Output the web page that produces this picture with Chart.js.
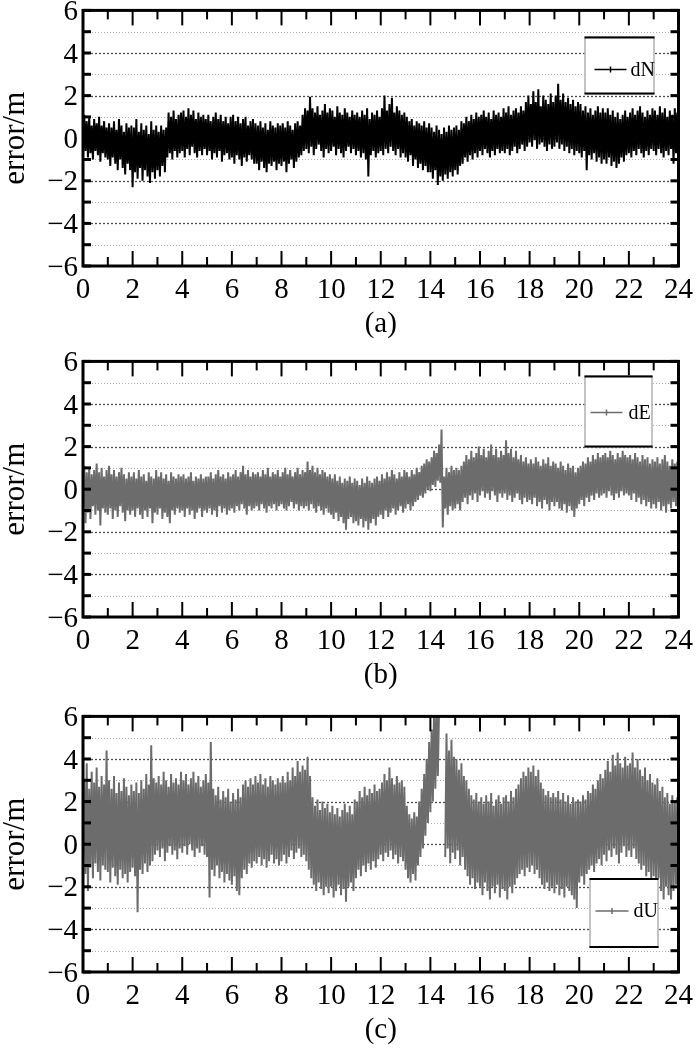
<!DOCTYPE html>
<html lang="en">
<head>
    <meta charset="UTF-8">
    <title>Position error dN / dE / dU</title>
    <script src="https://cdn.jsdelivr.net/npm/chart.js@4.4.1/dist/chart.umd.min.js"></script>
    <style>
        html, body { margin: 0; padding: 0; background: #fff; overflow: hidden; }
        body { width: 700px; height: 1052px; position: relative; }
        .panel { position: absolute; left: 0; width: 700px; height: 360px; }
    </style>
</head>
<body>
    <div class="panel" style="top:-12px"><canvas id="chartN" width="700" height="360"></canvas></div>
    <div class="panel" style="top:339px"><canvas id="chartE" width="700" height="360"></canvas></div>
    <div class="panel" style="top:694px"><canvas id="chartU" width="700" height="360"></canvas></div>

    <script>
        // one low/high pair of the error every 0.1 h (10 per row = 1 hour)
        const STEP_H = 0.1;
        const X_TICKS = [0, 2, 4, 6, 8, 10, 12, 14, 16, 18, 20, 22, 24];
        const Y_TICKS = [-6, -4, -2, 0, 2, 4, 6];

        const dNHi = [
            1.1, 0.8, 1.0, 0.6, 0.9, 0.7, 1.0, 0.6, 0.8, 0.5,
            0.7, 0.5, 0.8, 0.4, 0.9, 0.6, 0.3, 0.7, 0.5, 0.6,
            0.5, 0.9, 0.3, 0.7, 0.4, 0.6, 0.2, 0.8, 0.4, 0.6,
            0.3, 0.6, 0.4, 0.5, 1.2, 1.0, 1.3, 0.9, 1.1, 1.2,
            1.3, 1.0, 1.4, 1.1, 1.3, 0.9, 1.2, 1.0, 1.1, 0.9,
            1.1, 0.8, 1.0, 1.2, 0.9, 1.1, 0.8, 1.0, 0.7, 1.0,
            1.1, 0.8, 1.0, 0.7, 0.9, 1.0, 0.6, 0.8, 0.9, 0.7,
            0.6, 0.8, 0.5, 0.7, 0.4, 0.8, 0.6, 0.5, 0.7, 0.6,
            0.7, 0.5, 0.8, 0.6, 0.4, 0.7, 0.8, 0.6, 1.1, 1.4,
            1.3, 1.95, 1.4, 1.2, 1.5, 1.1, 1.3, 1.6, 1.2, 1.4,
            1.3, 1.0, 1.5, 1.2, 1.1, 1.4, 1.2, 1.0, 1.3, 1.1,
            1.2, 1.0, 1.3, 1.1, 1.4, 0.9, 1.2, 1.1, 1.3, 1.0,
            1.4, 2.0, 1.3, 1.6, 1.9, 1.2, 1.5, 1.3, 1.1, 1.2,
            1.0, 0.8, 0.9, 0.6, 0.8, 0.7, 0.6, 0.8, 0.5, 0.7,
            0.5, 0.3, 0.6, 0.4, 0.2, 0.5, 0.3, 0.6, 0.4, 0.5,
            0.6, 0.4, 0.8, 0.7, 1.0, 0.8, 1.1, 0.9, 1.2, 1.0,
            1.1, 1.3, 1.0, 1.2, 0.9, 1.3, 1.1, 1.2, 1.0, 1.4,
            1.2, 1.5, 1.1, 1.3, 1.4, 1.2, 1.5, 1.3, 1.7, 2.0,
            1.6, 2.2, 1.7, 2.3, 1.5, 2.0, 1.8, 1.6, 2.1, 1.7,
            2.0, 2.55, 1.8, 2.1, 1.7, 1.9, 1.6, 1.8, 1.5, 1.7,
            1.6, 1.3, 1.5, 1.2, 1.4, 1.1, 1.3, 1.5, 1.2, 1.4,
            1.2, 1.4, 1.1, 1.3, 1.0, 1.2, 0.9, 1.1, 1.3, 1.0,
            1.2, 1.4, 1.1, 1.3, 1.5, 1.2, 1.0, 1.3, 1.1, 1.4,
            1.3, 1.1, 1.5, 1.2, 1.4, 1.0, 1.3, 1.1, 1.4, 1.2
        ];
        const dNLo = [
            -0.8, -0.6, -0.9, -0.7, -1.0, -0.6, -0.8, -1.1, -0.7, -0.9,
            -1.0, -1.3, -0.9, -1.2, -1.5, -1.0, -1.4, -1.7, -1.2, -1.5,
            -2.3, -1.6, -1.9, -1.4, -2.0, -1.5, -1.8, -2.1, -1.6, -1.9,
            -1.5, -1.8, -1.3, -1.6, -0.9, -0.7, -1.0, -0.6, -0.9, -0.7,
            -0.6, -0.9, -0.5, -0.8, -0.4, -0.7, -0.9, -0.6, -0.8, -0.5,
            -0.8, -0.6, -1.0, -0.7, -0.9, -0.6, -1.1, -0.8, -0.7, -1.0,
            -0.9, -1.2, -0.8, -1.0, -1.3, -0.9, -1.1, -0.8, -1.0, -1.2,
            -1.2, -1.5, -1.1, -1.4, -1.6, -1.2, -1.3, -1.1, -1.5, -1.2,
            -1.3, -1.1, -1.6, -1.2, -1.0, -1.4, -1.1, -0.9, -0.8, -0.6,
            -0.5, -0.7, -0.4, -0.8, -0.5, -0.3, -0.6, -0.9, -0.5, -0.7,
            -0.6, -0.4, -0.8, -0.5, -0.7, -0.9, -0.6, -0.4, -0.7, -0.5,
            -0.8, -0.6, -0.9, -0.7, -1.0, -1.8, -0.8, -0.6, -0.9, -0.7,
            -0.6, -0.8, -0.5, -0.7, -0.4, -0.6, -0.8, -0.5, -0.9, -0.7,
            -0.9, -1.1, -0.8, -1.3, -1.0, -1.4, -1.2, -1.5, -1.3, -1.6,
            -1.6, -1.9, -1.5, -2.2, -1.8, -2.0, -1.7, -1.9, -1.6, -1.8,
            -1.5, -1.7, -1.3, -1.2, -0.9, -1.1, -0.8, -1.0, -0.7, -0.9,
            -0.6, -0.8, -0.5, -0.7, -0.9, -0.6, -0.8, -0.5, -0.7, -0.6,
            -0.7, -0.5, -0.8, -0.6, -0.4, -0.7, -0.5, -0.3, -0.6, -0.4,
            -0.2, -0.4, -0.1, -0.5, -0.3, -0.2, -0.4, -0.6, -0.3, -0.5,
            -0.4, -0.2, -0.5, -0.3, -0.6, -0.4, -0.7, -0.5, -0.8, -0.6,
            -0.7, -0.9, -0.6, -1.5, -0.8, -1.0, -0.7, -1.1, -0.9, -1.2,
            -1.0, -1.2, -0.9, -1.3, -1.1, -1.4, -1.2, -0.9, -1.1, -0.8,
            -0.7, -0.9, -0.6, -0.8, -0.5, -0.7, -0.9, -0.6, -0.8, -0.5,
            -0.6, -0.8, -0.5, -0.7, -0.9, -0.6, -0.8, -0.5, -1.2, -0.7
        ];

        const dEHi = [
            1.1, 0.8, 1.0, 0.7, 0.9, 1.2, 0.8, 1.0, 0.6, 0.9,
            1.1, 0.7, 0.9, 0.6, 0.8, 1.0, 0.7, 0.5, 0.8, 0.6,
            0.8, 0.5, 0.9, 0.6, 0.7, 0.4, 0.8, 0.6, 0.5, 0.9,
            0.6, 0.8, 0.5, 0.7, 0.4, 0.8, 0.6, 0.5, 0.7, 0.6,
            0.7, 0.5, 0.6, 0.8, 0.4, 0.6, 0.5, 0.7, 0.5, 0.6,
            0.6, 0.8, 0.5, 0.7, 0.9, 0.6, 0.7, 0.5, 0.8, 0.6,
            0.7, 0.9, 0.6, 0.8, 1.1, 0.7, 0.9, 0.6, 0.8, 0.7,
            0.8, 0.6, 0.9, 0.7, 1.0, 0.6, 0.8, 0.7, 0.9, 0.6,
            0.8, 1.0, 0.7, 0.9, 0.6, 0.8, 1.0, 0.7, 0.9, 0.8,
            1.3, 0.9, 1.1, 0.8, 1.0, 0.7, 0.9, 0.8, 0.6, 0.7,
            0.5, 0.7, 0.4, 0.6, 0.3, 0.5, 0.4, 0.6, 0.3, 0.5,
            0.4, 0.2, 0.5, 0.3, 0.6, 0.4, 0.3, 0.5, 0.6, 0.4,
            0.7, 0.5, 0.8, 0.6, 0.9, 0.7, 0.5, 0.8, 0.6, 0.9,
            0.8, 0.6, 0.9, 0.7, 1.0, 0.8, 1.1, 1.2, 1.4, 1.3,
            1.5, 1.8, 1.7, 2.1, 2.8, 0.6, 1.0, 0.8, 1.1, 0.9,
            1.0, 0.9, 1.1, 1.3, 1.6, 1.4, 1.8, 1.5, 1.7, 2.0,
            1.6, 1.9, 1.5, 1.8, 2.1, 1.6, 1.9, 1.5, 1.8, 1.6,
            2.3, 1.7, 1.9, 1.5, 1.8, 1.4, 1.6, 1.3, 1.5, 1.2,
            1.4, 1.2, 1.5, 1.3, 1.1, 1.4, 1.2, 1.5, 1.1, 1.3,
            1.2, 1.0, 1.3, 1.1, 0.9, 1.2, 1.0, 1.1, 0.8, 1.0,
            1.1, 1.3, 1.2, 1.5, 1.3, 1.6, 1.4, 1.7, 1.5, 1.6,
            1.7, 1.5, 1.8, 1.6, 1.4, 1.7, 1.5, 1.8, 1.6, 1.5,
            1.6, 1.4, 1.7, 1.5, 1.3, 1.6, 1.4, 1.5, 1.2, 1.4,
            1.3, 1.5, 1.2, 1.4, 1.6, 1.3, 1.1, 1.4, 1.2, 1.3
        ];
        const dELo = [
            -0.9, -1.6, -1.1, -1.4, -0.8, -1.2, -1.0, -1.7, -0.9, -1.1,
            -1.2, -0.9, -1.4, -1.0, -1.3, -0.8, -1.1, -1.5, -1.0, -1.2,
            -1.0, -1.3, -0.9, -1.2, -1.4, -1.0, -1.3, -0.9, -1.6, -1.1,
            -1.2, -0.9, -1.4, -1.1, -1.3, -1.6, -1.0, -1.2, -0.9, -1.1,
            -1.0, -1.3, -0.9, -1.2, -1.0, -1.4, -1.1, -0.9, -1.3, -1.0,
            -1.1, -0.9, -1.2, -1.0, -1.3, -0.8, -1.1, -0.9, -1.2, -1.0,
            -0.9, -1.1, -0.8, -1.0, -0.7, -0.9, -1.2, -0.8, -1.0, -0.9,
            -0.8, -1.0, -0.7, -0.9, -1.1, -0.8, -0.9, -0.7, -1.0, -0.8,
            -0.7, -0.9, -1.0, -0.8, -0.6, -0.9, -0.7, -1.0, -0.8, -0.9,
            -0.8, -1.0, -0.7, -0.9, -1.1, -0.8, -1.0, -1.2, -0.9, -1.1,
            -1.2, -1.4, -1.1, -1.5, -1.3, -1.6, -1.9, -1.4, -1.3, -1.6,
            -1.5, -1.7, -1.4, -1.8, -1.5, -1.9, -1.6, -1.4, -1.7, -1.3,
            -1.2, -1.4, -1.0, -1.3, -1.1, -0.9, -1.2, -1.0, -0.8, -1.1,
            -0.9, -0.7, -1.0, -0.8, -0.6, -0.5, -0.3, -0.4, -0.2, 0.0,
            -0.1, 0.2, 0.1, 0.4, 0.3, -1.8, -0.9, -1.2, -0.8, -1.0,
            -0.9, -0.7, -1.0, -0.6, -0.4, -0.7, -0.3, -0.5, -0.2, -0.6,
            -0.3, -0.1, -0.4, -0.2, -0.5, -0.1, -0.3, -0.6, -0.2, -0.4,
            -0.2, -0.5, -0.3, -0.6, -0.4, -0.2, -0.5, -0.7, -0.4, -0.6,
            -0.5, -0.7, -0.4, -0.8, -0.6, -0.9, -0.5, -0.7, -1.0, -0.6,
            -0.8, -0.6, -0.9, -1.0, -0.7, -1.1, -0.8, -1.0, -1.3, -0.9,
            -0.7, -0.5, -0.8, -0.4, -0.6, -0.3, -0.5, -0.2, -0.4, -0.3,
            -0.2, -0.4, -0.1, -0.3, -0.5, -0.2, -0.4, -0.1, -0.3, -0.2,
            -0.3, -0.5, -0.2, -0.6, -0.4, -0.7, -0.5, -0.8, -0.6, -0.9,
            -0.7, -0.9, -0.6, -1.0, -0.8, -1.1, -0.7, -0.9, -0.6, -0.8
        ];

        // null = no solution around 14.4 h
        const dUHi = [
            3.0, 3.8, 2.6, 3.4, 2.9, 3.6, 2.7, 3.2, 2.8, 4.4,
            3.0, 2.6, 3.2, 2.4, 2.9, 2.5, 3.1, 2.7, 2.3, 2.8,
            2.5, 2.9, 2.4, 3.0, 2.6, 3.3, 2.8, 4.65, 3.1, 2.9,
            3.2, 2.8, 3.4, 3.0, 2.7, 3.3, 2.9, 3.1, 2.8, 3.4,
            3.0, 3.3, 2.8, 3.1, 3.4, 2.9, 3.2, 2.7, 3.0, 3.3,
            2.9, 4.8, 2.6, 2.3, 2.7, 2.1, 2.5, 2.2, 2.6, 2.0,
            2.4, 2.1, 2.6, 2.2, 2.8, 3.0, 2.7, 3.1, 2.8, 3.2,
            2.9, 3.3, 2.8, 3.1, 2.7, 3.2, 3.0, 2.8, 3.1, 2.9,
            3.2, 2.9, 3.4, 3.0, 3.6, 3.2, 3.9, 3.4, 3.7, 3.5,
            4.1, 3.2, 2.2, 1.8, 2.1, 1.6, 2.0, 1.7, 1.9, 1.5,
            1.8, 1.4, 1.7, 1.3, 1.6, 1.9, 1.5, 1.8, 1.4, 2.1,
            2.0, 2.5, 2.2, 2.7, 2.3, 2.6, 2.4, 2.8, 2.5, 2.6,
            2.9, 3.3, 3.0, 3.6, 3.1, 2.8, 3.2, 2.9, 3.0, 2.7,
            1.8, 1.4, 1.2, 1.5, 1.3, 2.0, 2.6, 3.3, 4.0, 4.8,
            5.4, 6.4, 6.4, 6.4, null, null, 5.2, 4.4, 4.9, 4.1,
            4.0, 3.5, 3.8, 3.2, 3.0, 2.6, 2.3, 2.1, 2.4, 2.0,
            2.2, 1.9, 2.3, 2.0, 2.4, 1.8, 2.1, 2.3, 1.9, 2.2,
            2.3, 2.0, 2.5, 2.2, 2.6, 2.8, 3.1, 3.4, 3.2, 3.6,
            3.4, 3.7, 3.2, 3.5, 2.9, 2.6, 2.3, 2.5, 2.2, 2.4,
            2.2, 2.5, 2.1, 2.4, 2.0, 2.3, 1.9, 2.2, 2.0, 2.1,
            2.0, 2.3, 2.1, 2.5, 2.4, 2.8, 2.6, 3.0, 3.3, 3.1,
            3.5, 3.9, 3.4, 4.2, 3.7, 4.3, 3.8, 3.6, 4.1, 3.7,
            3.8, 4.3, 3.6, 4.0, 3.5, 3.2, 3.6, 3.0, 3.3, 2.9,
            2.8, 3.1, 2.5, 2.7, 2.2, 2.4, 1.9, 2.3, 2.0, 2.2
        ];
        const dULo = [
            -0.8, -1.4, -2.2, -1.1, -1.6, -0.9, -1.3, -1.7, -1.0, -1.2,
            -1.3, -1.8, -1.1, -1.5, -1.9, -1.2, -1.6, -1.4, -1.8, -1.3,
            -1.1, -1.5, -3.2, -1.2, -1.4, -0.9, -1.3, -1.0, -0.8, -0.5,
            -0.3, -0.6, -0.2, -0.8, -0.4, -0.1, -0.5, -0.3, -0.7, -0.2,
            -0.4, -0.1, -0.5, 0.0, -0.3, -0.6, -0.2, -0.4, -0.1, -0.5,
            -0.6, -2.5, -1.2, -1.5, -1.0, -1.6, -1.3, -1.8, -1.4, -1.7,
            -1.9, -1.5, -2.2, -2.4, -1.6, -1.2, -1.4, -0.9, -1.1, -0.8,
            -0.9, -0.6, -1.0, -0.7, -1.1, -0.8, -0.5, -0.9, -0.7, -1.0,
            -0.8, -0.5, -0.9, -0.6, -0.3, -0.7, -0.4, -0.2, -0.6, -0.5,
            -0.8, -1.2, -1.6, -1.9, -2.2, -1.8, -2.1, -2.4, -2.0, -2.3,
            -2.0, -2.5, -2.2, -1.9, -2.4, -2.1, -2.7, -2.0, -1.8, -2.2,
            -1.6, -1.2, -1.5, -1.0, -1.3, -0.9, -1.2, -0.8, -1.1, -0.7,
            -0.5, -0.8, -0.4, -0.6, -0.3, -0.7, -0.5, -0.9, -0.6, -0.8,
            -1.2, -1.6, -1.8, -1.4, -1.7, -1.0, -0.6, -0.2, 0.4, 1.0,
            1.5, 2.0, 2.6, 3.2, null, null, -0.6, -0.2, -0.9, -0.4,
            -0.7, -0.3, -1.0, -0.6, -1.2, -1.5, -1.9, -1.6, -2.1, -1.8,
            -2.0, -2.4, -1.8, -2.2, -2.6, -2.0, -2.3, -1.9, -2.5, -2.1,
            -2.2, -2.6, -2.0, -2.3, -1.9, -1.6, -1.4, -1.2, -1.5, -1.1,
            -1.3, -1.0, -1.4, -1.2, -1.6, -1.9, -2.1, -1.8, -2.2, -2.0,
            -2.3, -1.9, -2.4, -2.1, -2.5, -2.0, -2.2, -2.4, -2.6, -3.0,
            -1.8, -1.5, -1.9, -1.4, -1.2, -1.0, -1.3, -0.9, -0.7, -1.0,
            -0.5, -0.8, -0.3, -0.6, -0.2, -0.5, -0.9, -0.4, -0.1, -0.6,
            -0.3, -0.6, -0.2, -0.7, -0.9, -1.2, -1.0, -1.5, -1.3, -1.6,
            -1.5, -1.8, -1.6, -2.2, -2.6, -2.0, -2.4, -2.6, -2.2, -1.9
        ];

        const SERIF = "'Liberation Serif', 'Times New Roman', serif";

        // zigzag low -> high inside each time step, so the trace fills like a dense record
        function toPoints(lo, hi) {
            const pts = [];
            for (let i = 0; i < lo.length; i++) {
                const t = i * STEP_H;
                pts.push({ x: t, y: lo[i] });
                pts.push({ x: t + STEP_H / 2, y: hi[i] });
            }
            return pts;
        }

        function minus(v) {
            return v < 0 ? '\u2212' + Math.abs(v) : String(v);
        }

        // dotted grid, inward ticks, heavy frame and the boxed legend
        const framePlugin = {
            id: 'originFrame',
            beforeDatasetsDraw(chart) {
                const { ctx, chartArea: a, scales: { y } } = chart;
                ctx.save();
                for (let v = -5; v <= 5; v++) {
                    const py = Math.round(y.getPixelForValue(v)) + 0.5;
                    const even = v % 2 === 0;
                    ctx.strokeStyle = even ? '#4d4d4d' : '#b0b0b0';
                    ctx.lineWidth = even ? 1.3 : 1;
                    ctx.setLineDash(even ? [2, 2] : [1, 2]);
                    ctx.beginPath();
                    ctx.moveTo(a.left, py);
                    ctx.lineTo(a.right, py);
                    ctx.stroke();
                }
                ctx.restore();
            },
            afterDatasetsDraw(chart) {
                const { ctx, chartArea: a, scales: { x, y } } = chart;
                ctx.save();
                ctx.strokeStyle = '#000';
                const seg = (x1, y1, x2, y2) => {
                    ctx.beginPath();
                    ctx.moveTo(x1, y1);
                    ctx.lineTo(x2, y2);
                    ctx.stroke();
                };
                ctx.lineWidth = 2;
                for (let h = 0; h <= 24; h++) {
                    const px = x.getPixelForValue(h);
                    const len = h % 2 === 0 ? 15 : 9;
                    seg(px, a.bottom, px, a.bottom - len);
                    seg(px, a.top, px, a.top + len);
                }
                ctx.lineWidth = 3;
                for (let v = -6; v <= 6; v++) {
                    const py = y.getPixelForValue(v);
                    seg(a.left, py, a.left + 8, py);
                    seg(a.right, py, a.right - 8, py);
                }
                ctx.strokeRect(a.left, a.top, a.right - a.left, a.bottom - a.top);
                ctx.restore();
            },
            afterDraw(chart) {
                const opts = chart.options.plugins.originFrame;
                const { ctx, chartArea: a } = chart;
                const ds = chart.data.datasets[0];
                const b = opts.box;
                const left = a.right - b.right - b.w;
                const top = b.top !== undefined ? a.top + b.top : a.bottom - b.bottom - b.h;
                ctx.save();
                ctx.fillStyle = '#fff';
                ctx.fillRect(left, top, b.w, b.h);
                ctx.lineWidth = 1;
                ctx.strokeStyle = '#8a8a8a';
                ctx.strokeRect(left + 0.5, top + 0.5, b.w - 1, b.h - 1);
                ctx.lineWidth = 2;
                ctx.strokeStyle = '#000';
                ctx.beginPath();
                ctx.moveTo(left, top + 1); ctx.lineTo(left + b.w, top + 1);
                ctx.moveTo(left, top + b.h - 1); ctx.lineTo(left + b.w, top + b.h - 1);
                ctx.stroke();
                // line sample with the small symbol mark in the middle
                const ly = top + b.lineY;
                ctx.strokeStyle = ds.borderColor;
                ctx.lineWidth = 1.5;
                ctx.beginPath();
                ctx.moveTo(left + b.lineX1, ly);
                ctx.lineTo(left + b.lineX2, ly);
                const mx = left + (b.lineX1 + b.lineX2) / 2;
                ctx.moveTo(mx, ly - 3);
                ctx.lineTo(mx, ly + 3);
                ctx.stroke();
                ctx.fillStyle = '#000';
                ctx.font = '20px ' + SERIF;
                ctx.textBaseline = 'middle';
                ctx.fillText(ds.label, left + b.textX, ly + 1);
                ctx.restore();
            }
        };

        function makePanel(canvasId, label, color, lo, hi, caption, box) {
            return new Chart(document.getElementById(canvasId), {
                type: 'line',
                data: {
                    datasets: [{
                        label: label,
                        data: toPoints(lo, hi),
                        borderColor: color,
                        borderWidth: 2,
                        pointRadius: 0,
                        tension: 0,
                        spanGaps: false
                    }]
                },
                options: {
                    responsive: false,
                    animation: false,
                    devicePixelRatio: 1,
                    layout: { padding: { top: 20, right: 14, bottom: 2, left: 0 } },
                    scales: {
                        x: {
                            type: 'linear',
                            min: 0,
                            max: 24,
                            afterFit: (s) => { s.height = 80; },
                            afterBuildTicks: (s) => { s.ticks = X_TICKS.map(v => ({ value: v })); },
                            grid: { display: false, drawTicks: false, tickLength: 0 },
                            border: { display: false },
                            ticks: {
                                autoSkip: false,
                                maxRotation: 0,
                                padding: 7,
                                color: '#000',
                                font: { family: SERIF, size: 29 },
                                callback: (v) => String(v)
                            },
                            title: {
                                display: true,
                                text: caption,
                                color: '#000',
                                padding: { top: 0, bottom: 4 },
                                font: { family: SERIF, size: 29 }
                            }
                        },
                        y: {
                            min: -6,
                            max: 6,
                            afterFit: (s) => { s.width = 83; },
                            afterBuildTicks: (s) => { s.ticks = Y_TICKS.map(v => ({ value: v })); },
                            grid: { display: false, drawTicks: false, tickLength: 0 },
                            border: { display: false },
                            ticks: {
                                autoSkip: false,
                                padding: 5,
                                labelOffset: 2,
                                color: '#000',
                                font: { family: SERIF, size: 29 },
                                callback: (v) => minus(v)
                            },
                            title: {
                                display: true,
                                text: 'error/m',
                                color: '#000',
                                padding: { top: 0, bottom: 0 },
                                font: { family: SERIF, size: 31, lineHeight: 1 }
                            }
                        }
                    },
                    plugins: {
                        legend: { display: false },
                        tooltip: { enabled: false },
                        originFrame: { box: box }
                    }
                },
                plugins: [framePlugin]
            });
        }

        makePanel('chartN', 'dN', '#000000', dNLo, dNHi, '(a)',
            { right: 24, top: 26, w: 70, h: 58, lineX1: 10, lineX2: 42, lineY: 33, textX: 46 });
        makePanel('chartE', 'dE', '#6c6c6c', dELo, dEHi, '(b)',
            { right: 26, top: 14, w: 68, h: 72, lineX1: 6, lineX2: 38, lineY: 37, textX: 44 });
        makePanel('chartU', 'dU', '#6c6c6c', dULo, dUHi, '(c)',
            { right: 20, bottom: 24, w: 69, h: 70, lineX1: 6, lineX2: 39, lineY: 33, textX: 44 });
    </script>
</body>
</html>
